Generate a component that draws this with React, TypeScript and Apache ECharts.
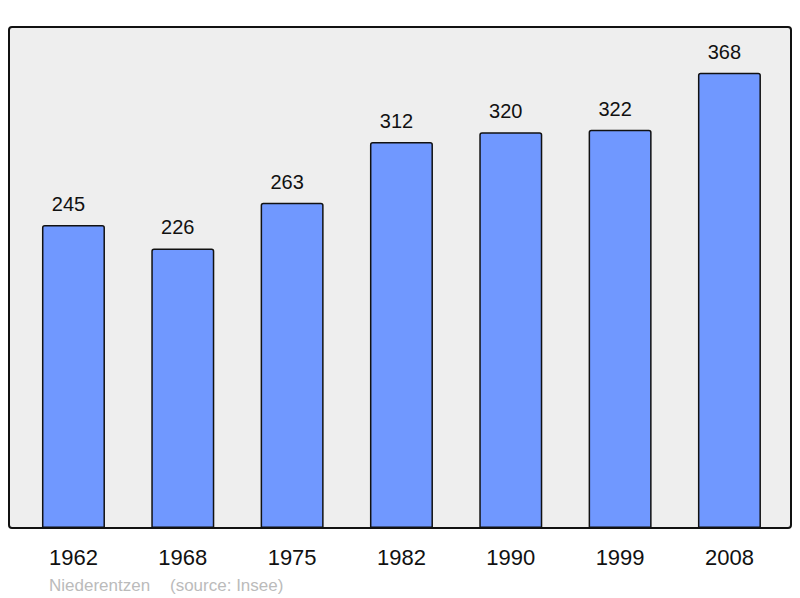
import React, { useEffect, useRef } from "react";
import * as echarts from "echarts";

const years: string[] = ["1962", "1968", "1975", "1982", "1990", "1999", "2008"];
const population: number[] = [245, 226, 263, 312, 320, 322, 368];
const footerPlace = "Niederentzen";
const footerSource = "(source: Insee)";

const FONT = "Liberation Sans, Arial, sans-serif";

export default function App() {
  const ref = useRef<HTMLDivElement>(null);
  useEffect(() => {
    if (!ref.current) return;
    const chart = echarts.init(ref.current, null, { renderer: "svg" });
    chart.setOption({
      animation: false,
      backgroundColor: "#ffffff",
      textStyle: { fontFamily: FONT },
      graphic: [
        {
          type: "rect",
          z: -10,
          shape: { x: 9, y: 27, width: 782, height: 501, r: 3 },
          style: { fill: "#eeeeee", stroke: "#111111", lineWidth: 2 },
          silent: true,
        },
        {
          type: "text",
          style: {
            x: 49,
            y: 585,
            text: footerPlace,
            fill: "#bbbbbb",
            font: "17px " + FONT,
            verticalAlign: "middle",
          },
        },
        {
          type: "text",
          style: {
            x: 170,
            y: 585,
            text: footerSource,
            fill: "#bbbbbb",
            font: "17px " + FONT,
            verticalAlign: "middle",
          },
        },
      ],
      grid: { left: 18.8, top: 27, width: 765.3, height: 501, containLabel: false },
      xAxis: {
        type: "category",
        data: years,
        axisLine: { show: false },
        axisTick: { show: false },
        axisLabel: {
          color: "#111111",
          fontSize: 22,
          margin: 18,
          fontFamily: FONT,
        },
      },
      yAxis: {
        type: "value",
        min: 0,
        max: 405,
        show: false,
        splitLine: { show: false },
      },
      series: [
        {
          type: "bar",
          data: population,
          barWidth: 63,
          itemStyle: {
            color: "#7098ff",
            borderColor: "#111111",
            borderWidth: 1.5,
            borderRadius: [2, 2, 0, 0],
          },
          label: {
            show: true,
            position: "top",
            distance: 11,
            offset: [-5, 0],
            color: "#111111",
            fontSize: 20,
            fontFamily: FONT,
          },
        },
      ],
    });
    return () => chart.dispose();
  }, []);
  return (
    <div
      ref={ref}
      style={{ position: "fixed", left: 0, top: 0, width: 800, height: 598 }}
    />
  );
}
